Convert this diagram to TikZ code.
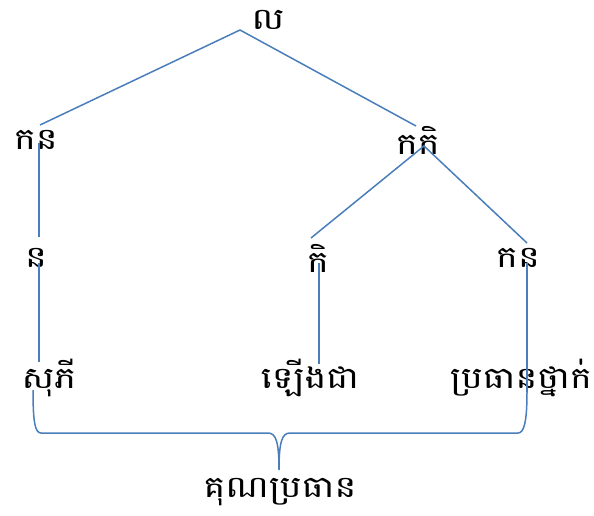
\documentclass[tikz,border=0pt]{standalone}
\usepackage{fontspec}
\newfontfamily\khmerfont[Script=Khmer,FakeStretch=1.22]{Battambang}
\definecolor{linecol}{RGB}{74,126,187}
\begin{document}
\begin{tikzpicture}[x=1pt,y=-1pt,
  lbl/.style={font=\khmerfont\fontsize{30}{34}\selectfont, inner sep=0pt, anchor=center},
  conn/.style={draw=linecol, line width=1.5pt}]
\useasboundingbox (0,0) rectangle (594,516);
% text nodes
\node[lbl] (lo) at (268,20) {ល};
\node[lbl] (kn1) at (36,140) {កន};
\node[lbl] (kki) at (418,140) {កកិ};
\node[lbl] (n) at (36,258) {ន};
\node[lbl] (ki) at (318,258) {កិ};
\node[lbl] (kn2) at (518,258) {កន};
\node[lbl] (sophi) at (49,378) {សុភី};
\node[lbl] (laeng) at (310,378) {ឡើងជា};
\node[lbl] (pratean) at (521,378) {ប្រធានថ្នាក់};
\node[lbl] (kun) at (280,492) {គុណប្រធាន};
% connector endpoints
\coordinate (apex) at (240,30);
\coordinate (aL) at (40,125);
\coordinate (aR) at (416,126);
\coordinate (b) at (424,146);
\coordinate (bL) at (311,238);
\coordinate (bR) at (527,243);
\coordinate (c1) at (39,143);
\coordinate (c2) at (39,237);
\coordinate (d1) at (39,263);
\coordinate (d2) at (39,362);
\coordinate (e1) at (319,263);
\coordinate (e2) at (319,364);
\coordinate (f1) at (527,263);
\coordinate (f2) at (527,392);
\coordinate (brL) at (33,390);
\coordinate (tip) at (279,470);
% connectors
\draw[conn] (aL) -- (apex) -- (aR);
\draw[conn] (bL) -- (b) -- (bR);
\draw[conn] (c1) -- (c2);
\draw[conn] (d1) -- (d2);
\draw[conn] (e1) -- (e2);
\draw[conn] (f1) -- (f2);
% brace
\draw[conn] (brL) .. controls (33,422) and (35,433) .. (41,433) -- (268,433)
  .. controls (276,433) and (279,442) .. (tip)
  .. controls (279,442) and (282,433) .. (290,433) -- (518,433)
  .. controls (524,433) and (527,422) .. (f2);
\end{tikzpicture}
\end{document}
